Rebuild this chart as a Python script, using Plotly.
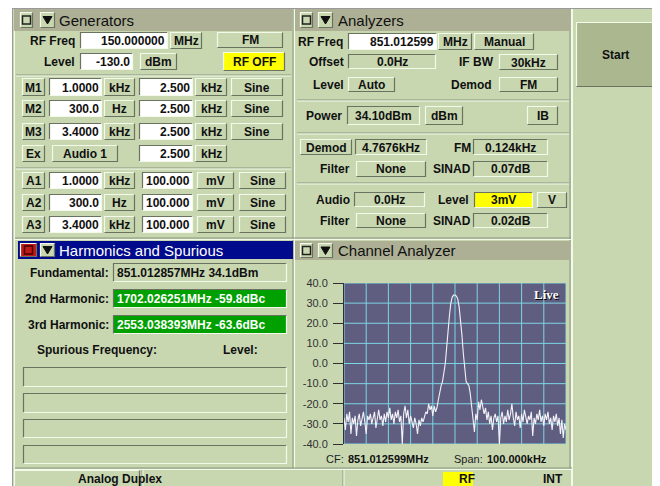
import plotly.graph_objects as go

# ---------------- data (Channel Analyzer trace) ----------------
# frequency offset from CF (kHz), 0.625 kHz bins across a 100 kHz span
freq_offset_khz = [round(-50 + 0.625 * i, 3) for i in range(161)]
level_dbm = [
    -27, -33, -25, -29, -24, -35, -27, -30, -26, -36,
    -28, -25, -31, -27, -24, -29, -35, -26, -28, -25,
    -30, -27, -24, -32, -27, -23, -28, -26, -31, -25,
    -29, -24, -27, -22, -28, -25, -30, -24, -27, -23,
    -29, -26, -40, -25, -21, -27, -23, -30, -26, -29,
    -32, -27, -30, -35, -28, -31, -27, -29, -26, -24,
    -25, -20, -23, -21, -26, -21, -24, -22, -18, -14,
    -11, -9, -5, 0, 8, 17, 24, 30, 33, 34,
    34, 33.5, 32, 28, 22, 14, 5, -3, -9, -10,
    -11, -15, -21, -27, -34, -25, -28, -19, -23, -18,
    -21, -25, -22, -28, -24, -30, -26, -33, -27, -25,
    -29, -26, -40, -27, -24, -30, -26, -29, -23, -28,
    -25, -20, -27, -31, -24, -28, -26, -32, -25, -29,
    -23, -27, -30, -26, -28, -24, -36, -27, -30, -25,
    -28, -23, -29, -26, -31, -25, -28, -24, -30, -27,
    -33, -26, -29, -25, -31, -27, -35, -28, -37, -30,
    -33,
]
y_tick_vals = [40, 30, 20, 10, 0, -10, -20, -30, -40]
y_tick_text = ["40.0", "30.0", "20.0", "10.0", "0.0", "-10.0", "-20.0", "-30.0", "-40.0"]
x_grid_khz = [-50, -40, -30, -20, -10, 0, 10, 20, 30, 40, 50]

# ---------------- styling ----------------
# The page body has an 8px margin; coordinates below are in window pixels.
OFF = 8
W, H = 652, 478
BG = "#c8d7b0"
TITLE = "#adb095"
LIGHT = "#f4faea"
DARK = "#6a7360"
NAVY = "#000a8c"
PLOTBG = "#605e80"
GRID = "#7cd4e4"
GREEN = "#00a000"
YELLOW = "#ffff00"
START = "#aab78f"
TXT = "#101010"
SANS = "Liberation Sans, Arial, sans-serif"

shapes = []
annotations = []


def X(x):
    return (x - OFF) / W


def Y(y):
    return 1 - (y - OFF) / H


def rect(x0, y0, x1, y1, fill, layer="below"):
    shapes.append(dict(type="rect", xref="paper", yref="paper",
                       x0=X(x0), x1=X(x1), y0=Y(y1), y1=Y(y0),
                       fillcolor=fill, line=dict(width=0), layer=layer))


def path(d, color, w=1, fill=None, layer="below"):
    s = dict(type="path", xref="paper", yref="paper", path=d,
             line=dict(color=color, width=w), layer=layer)
    if fill:
        s["fillcolor"] = fill
    shapes.append(s)


def hline(x0, x1, y, color, w=1):
    path(f"M{X(x0)},{Y(y)} L{X(x1)},{Y(y)}", color, w)


def vline(x, y0, y1, color, w=1):
    path(f"M{X(x)},{Y(y0)} L{X(x)},{Y(y1)}", color, w)


def bevel(x0, y0, x1, y1, tl, br, w=1):
    a, b, c, d = x0 + 0.5, y0 + 0.5, x1 - 0.5, y1 - 0.5
    path(f"M{X(a)},{Y(d)} L{X(a)},{Y(b)} L{X(c)},{Y(b)}", tl, w)
    path(f"M{X(c)},{Y(b)} L{X(c)},{Y(d)} L{X(a)},{Y(d)}", br, w)


def text(x, y, s, size=12, bold=True, color=TXT, anchor="left", family=SANS, **fk):
    f = dict(size=size, color=color, family=family)
    f.update(fk)
    annotations.append(dict(xref="paper", yref="paper", x=X(x), y=Y(y),
                            text=f"<b>{s}</b>" if bold else s, showarrow=False,
                            xanchor=anchor, yanchor="middle", font=f,
                            borderpad=0))


def button(x0, y0, x1, y1, s, fill=BG, size=12, color=TXT):
    rect(x0, y0, x1, y1, fill)
    bevel(x0, y0, x1, y1, LIGHT, DARK, 1.2)
    if s:
        text((x0 + x1) / 2, (y0 + y1) / 2 + 0.5, s, size, True, color, "center")


def field(x0, y0, x1, y1, s, fill="#ffffff", align="right", color=TXT, size=12):
    rect(x0, y0, x1, y1, fill)
    bevel(x0, y0, x1, y1, DARK, LIGHT, 1.2)
    if s:
        ym = (y0 + y1) / 2 + 0.5
        if align == "right":
            text(x1 - 2, ym, s, size, True, color, "right")
        elif align == "left":
            text(x0 + 3, ym, s, size, True, color, "left")
        else:
            text((x0 + x1) / 2, ym, s, size, True, color, "center")


def label(x, y, s, anchor="right", size=12):
    text(x, y, s, size, True, TXT, anchor)


def sep(x0, x1, y):
    hline(x0, x1, y, "#8c9480", 1)
    hline(x0, x1, y + 1, LIGHT, 1)


def icon_box(x0, y0, x1, y1, fill=BG, inner="#202020"):
    rect(x0, y0, x1, y1, fill)
    bevel(x0, y0, x1, y1, LIGHT, DARK, 1.2)
    cx, cy = (x0 + x1) / 2, (y0 + y1) / 2
    path(f"M{X(cx-4)},{Y(cy-4)} L{X(cx+4)},{Y(cy-4)} L{X(cx+4)},{Y(cy+4)} "
         f"L{X(cx-4)},{Y(cy+4)} Z", inner, 1.5)


def icon_tri(x0, y0, x1, y1, fill=BG):
    rect(x0, y0, x1, y1, fill)
    bevel(x0, y0, x1, y1, LIGHT, DARK, 1.2)
    cx, cy = (x0 + x1) / 2, (y0 + y1) / 2
    path(f"M{X(cx-4.5)},{Y(cy-3.5)} L{X(cx+4.5)},{Y(cy-3.5)} L{X(cx)},{Y(cy+4)} Z",
         "#101010", 1, fill="#101010")


# ---------------- global frame ----------------
rect(13, 8, 660, 486, BG)
vline(12.5, 8, 486, "#9a9a9a", 1)
hline(12, 660, 8.5, "#9a9a9a", 1)
# panel dividers
vline(293, 9, 468, "#8c9480", 1)
vline(294.5, 9, 468, LIGHT, 1.2)
vline(570, 9, 468, "#8c9480", 1)
vline(572, 9, 486, LIGHT, 2)
hline(14, 571, 238, "#8c9480", 1)
hline(14, 571, 239.5, LIGHT, 1.2)
hline(14, 572, 468, "#8c9480", 1)
hline(14, 572, 469.5, LIGHT, 1.2)
vline(14.5, 9, 486, LIGHT, 1)
vline(657.5, 9, 486, LIGHT, 1)

# ---------------- Generators ----------------
rect(14, 9, 292, 31, TITLE)
icon_box(20, 12, 33, 28)
icon_tri(40, 12, 55, 28)
text(58, 20.5, "Generators", 15, False)

label(76, 41, "RF Freq")
field(80, 32, 168, 49, "150.000000")
button(170, 32, 202, 49, "MHz")
button(217, 32, 283, 48, "FM")
label(76, 62, "Level")
field(80, 53, 133, 70, "-130.0")
button(140, 53, 177, 70, "dBm")
button(223, 52, 285, 71, "RF OFF", fill=YELLOW)
sep(16, 291, 75)

for name, (y0, y1), f, unit in [("M1", (78, 96), "1.0000", "kHz"),
                                 ("M2", (100, 117), "300.0", "Hz"),
                                 ("M3", (123, 140), "3.4000", "kHz")]:
    button(22, y0, 45, y1, name)
    field(49, y0, 102, y1, f)
    button(104, y0, 135, y1, unit)
    field(139, y0, 193, y1, "2.500")
    button(195, y0, 227, y1, "kHz")
    button(231, y0, 283, y1, "Sine")

button(22, 145, 45, 162, "Ex")
button(52, 145, 118, 162, "Audio 1")
field(139, 145, 193, 162, "2.500")
button(195, 145, 227, 162, "kHz")
sep(16, 291, 168)

for name, (y0, y1), f, unit in [("A1", (172, 189), "1.0000", "kHz"),
                                 ("A2", (194, 211), "300.0", "Hz"),
                                 ("A3", (216, 233), "3.4000", "kHz")]:
    button(22, y0, 45, y1, name)
    field(49, y0, 102, y1, f)
    button(104, y0, 135, y1, unit)
    field(142, y0, 193, y1, "100.000")
    button(197, y0, 234, y1, "mV")
    button(239, y0, 286, y1, "Sine")

# ---------------- Harmonics and Spurious ----------------
rect(18, 241, 293, 259, NAVY)
icon_box(20, 243, 37, 257, fill="#c41818", inner="#400000")
icon_tri(40, 243, 55, 257)
text(58, 250.5, "Harmonics and Spurious", 15, False, "#ffffff")

label(110, 272.5, "Fundamental:")
field(113, 263, 287, 282, "851.012857MHz 34.1dBm", fill=BG, align="left")
label(110, 298.5, "2nd Harmonic:")
field(113, 289, 287, 308, "1702.026251MHz -59.8dBc", fill=GREEN, align="left", color="#ffffff")
label(110, 324.5, "3rd Harmonic:")
field(113, 315, 287, 334, "2553.038393MHz -63.6dBc", fill=GREEN, align="left", color="#ffffff")
label(36, 350, "Spurious Frequency:", anchor="left")
label(222, 350, "Level:", anchor="left")
for y0, y1 in [(367, 387), (393, 413), (419, 438), (445, 464)]:
    field(23, y0, 287, y1, "", fill=BG)

# ---------------- Analyzers ----------------
rect(295, 9, 570, 31, TITLE)
icon_box(300, 12, 313, 28)
icon_tri(318, 12, 333, 28)
text(337, 20.5, "Analyzers", 15, False)

label(344, 42, "RF Freq")
field(348, 33, 437, 50, "851.012599")
button(438, 33, 472, 50, "MHz")
button(474, 33, 534, 50, "Manual")
label(345, 62, "Offset")
field(348, 54, 436, 69, "0.0Hz", fill=BG, align="center")
label(495, 62, "IF BW")
button(499, 54, 558, 70, "30kHz")
label(345, 85, "Level")
button(348, 77, 395, 92, "Auto")
label(493, 85, "Demod")
button(499, 77, 558, 92, "FM")
sep(297, 569, 100)
label(343, 116, "Power")
field(347, 106, 420, 125, "34.10dBm", fill=BG, align="center")
button(425, 106, 463, 125, "dBm")
button(527, 106, 558, 125, "IB")
sep(297, 569, 133)
button(300, 139, 352, 155, "Demod")
field(355, 139, 427, 155, "4.7676kHz", fill=BG, align="center")
label(472, 147.5, "FM")
field(473, 139, 548, 155, "0.124kHz", fill=BG, align="center")
label(351, 169.5, "Filter")
button(356, 161, 426, 177, "None")
label(472, 169.5, "SINAD")
field(473, 161, 548, 177, "0.07dB", fill=BG, align="center")
sep(297, 569, 183)
label(351, 200, "Audio")
field(354, 192, 425, 207, "0.0Hz", fill=BG, align="center")
label(470, 200, "Level")
field(474, 192, 533, 208, "3mV", fill=YELLOW, align="center")
button(537, 192, 567, 208, "V")
label(351, 221, "Filter")
button(356, 213, 426, 228, "None")
label(472, 221, "SINAD")
field(473, 213, 548, 228, "0.02dB", fill=BG, align="center")

# ---------------- Channel Analyzer ----------------
rect(295, 241, 570, 260, TITLE)
icon_box(300, 243, 313, 258)
icon_tri(318, 243, 333, 258)
text(337, 250.5, "Channel Analyzer", 15, False)
rect(344, 283, 566, 444, PLOTBG)   # plot background (below grid & trace)
text(325, 459, "CF:", 11, False, "#202020")
text(347, 459, "851.012599MHz", 11, True, "#101010")
text(453, 459, "Span:", 11, False, "#202020")
text(486, 459, "100.000kHz", 11, True, "#101010")
text(560, 294, "Live", 13, True, "#ffffff", "right",
     family="Liberation Serif, serif", shadow="1px 1px 0px #000000")

# ---------------- right column ----------------
button(576, 22, 655, 87, "Start", fill=START)

# ---------------- status bar ----------------
button(14, 470, 140, 490, "")
text(77, 478.5, "Analog Duplex", 12, True)
vline(142, 470, 486, "#8c9480", 1)
vline(143, 470, 486, LIGHT, 1)
vline(343, 470, 486, "#8c9480", 1)
vline(344, 470, 486, LIGHT, 1)
rect(443, 472, 473, 486, YELLOW)
text(458, 479, "RF", 12, True)
text(564, 479, "INT", 12, True, anchor="right")

# grid lines on the analyzer axes (drawn under the trace)
for v in y_tick_vals:
    shapes.append(dict(type="line", xref="x", yref="y", x0=-50, x1=50, y0=v, y1=v,
                       line=dict(color=GRID, width=1), layer="below"))
for v in x_grid_khz:
    shapes.append(dict(type="line", xref="x", yref="y", x0=v, x1=v, y0=-40, y1=40,
                       line=dict(color=GRID, width=1), layer="below"))

# ---------------- figure ----------------
fig = go.Figure()
fig.add_trace(go.Scatter(x=freq_offset_khz, y=level_dbm, mode="lines",
                         line=dict(color="#f2f2f8", width=1.1),
                         hoverinfo="skip", showlegend=False))

fig.update_layout(
    template="none",
    width=W, height=H,
    margin=dict(l=0, r=0, t=0, b=0, pad=0),
    paper_bgcolor="#ffffff",
    plot_bgcolor=PLOTBG,
    font=dict(family=SANS, size=12, color=TXT),
    showlegend=False,
    shapes=shapes,
    annotations=annotations,
    xaxis=dict(domain=[X(344), X(566)], range=[-50, 50], tick0=-50, dtick=10,
               showgrid=False, zeroline=False,
               showticklabels=False, ticks="", showline=False,
               automargin=False, fixedrange=True),
    yaxis=dict(domain=[Y(444), Y(283)], range=[-40, 40],
               tickvals=y_tick_vals, ticktext=y_tick_text,
               showgrid=False, zeroline=False,
               ticks="outside", ticklen=10, tickcolor="#303030", tickwidth=1,
               showline=True, linecolor="#303030", linewidth=1,
               tickfont=dict(size=11, color="#303030", family=SANS),
               ticklabelstandoff=3,
               automargin=False, fixedrange=True),
)

fig.write_html("out.html")
